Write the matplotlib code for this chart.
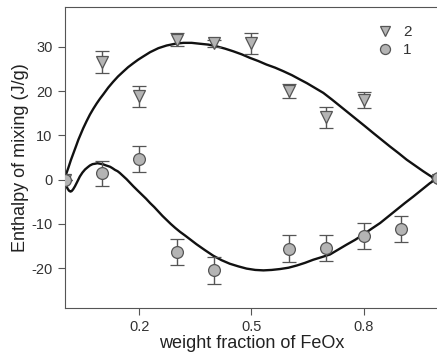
import matplotlib.pyplot as plt
import numpy as np

plt.rcParams['font.family'] = ['Liberation Sans', 'DejaVu Sans']
plt.rcParams['axes.unicode_minus'] = False

# series 2 (triangles)
x2 = [0.0, 0.1, 0.2, 0.3, 0.4, 0.5, 0.6, 0.7, 0.8, 1.0]
y2 = [0.0, 26.5, 18.8, 31.6, 30.8, 30.8, 20.0, 14.1, 18.0, 0.0]
e2 = [0.0, 2.5, 2.4, 1.5, 0.8, 2.4, 1.5, 2.4, 1.8, 0.0]

# series 1 (circles)
x1 = [0.0, 0.1, 0.2, 0.3, 0.4, 0.6, 0.7, 0.8, 0.9, 1.0]
y1 = [0.0, 1.4, 4.7, -16.3, -20.5, -15.6, -15.5, -12.7, -11.2, 0.3]
e1 = [0.0, 2.8, 3.0, 3.0, 3.0, 3.0, 2.9, 3.0, 3.0, 0.0]

# fitted curves
cx2 = [0.0, 0.005, 0.01, 0.017, 0.024, 0.031, 0.037, 0.044, 0.05, 0.059, 0.068,
       0.077, 0.086, 0.095, 0.104, 0.117, 0.13, 0.143, 0.157, 0.17, 0.184,
       0.197, 0.21, 0.229, 0.251, 0.273, 0.296, 0.318, 0.34, 0.362, 0.385,
       0.407, 0.429, 0.451, 0.474, 0.496, 0.518, 0.54, 0.563, 0.585, 0.608,
       0.63, 0.648, 0.67, 0.692, 0.715, 0.737, 0.759, 0.781, 0.803, 0.826,
       0.848, 0.87, 0.893, 0.915, 0.937, 0.959, 0.977, 1.0]
cy2 = [0.0, 1.4, 2.6, 4.4, 6.0, 7.6, 9.0, 10.4, 11.6, 13.2, 14.7,
       16.0, 17.2, 18.3, 19.3, 20.8, 22.1, 23.3, 24.4, 25.4, 26.3,
       27.1, 27.8, 28.8, 29.7, 30.3, 30.7, 30.9, 30.9, 30.7, 30.5,
       30.1, 29.6, 29.0, 28.3, 27.5, 26.8, 26.0, 25.3, 24.5, 23.6,
       22.6, 21.8, 20.7, 19.6, 18.1, 16.6, 15.1, 13.6, 12.1, 10.5,
       9.0, 7.5, 6.0, 4.5, 3.2, 1.9, 0.9, -0.3]
cx1 = [0.0, 0.004, 0.008, 0.012, 0.016, 0.019, 0.023, 0.028, 0.034, 0.041,
       0.048, 0.055, 0.062, 0.068, 0.075, 0.082, 0.088, 0.095, 0.102, 0.108,
       0.115, 0.122, 0.128, 0.135, 0.142, 0.148, 0.157, 0.166, 0.175, 0.184,
       0.196, 0.207, 0.218, 0.229, 0.24, 0.251, 0.262, 0.273, 0.284, 0.296,
       0.309, 0.322, 0.336, 0.353, 0.375, 0.398, 0.42, 0.442, 0.465, 0.487,
       0.51, 0.532, 0.554, 0.576, 0.599, 0.621, 0.643, 0.665, 0.688, 0.71,
       0.732, 0.754, 0.777, 0.799, 0.821, 0.844, 0.866, 0.888, 0.91, 0.933,
       0.955, 0.977, 1.0]
cy1 = [0.0, -1.2, -2.0, -2.5, -2.7, -2.6, -2.2, -1.5, -0.5, 0.7,
       1.6, 2.3, 2.8, 3.2, 3.5, 3.6, 3.7, 3.6, 3.5, 3.3,
       3.1, 2.9, 2.6, 2.2, 1.9, 1.5, 0.8, 0.1, -0.7, -1.5,
       -2.5, -3.4, -4.3, -5.3, -6.2, -7.2, -8.2, -9.1, -10.0, -10.9,
       -11.8, -12.6, -13.5, -14.6, -15.9, -17.2, -18.2, -19.0, -19.6, -20.1,
       -20.4, -20.5, -20.4, -20.2, -19.9, -19.4, -18.8, -18.1, -17.5, -16.9,
       -15.8, -14.7, -13.6, -12.4, -11.1, -9.8, -8.3, -6.8, -5.3, -3.8,
       -2.3, -0.8, 0.5]

fig = plt.figure(figsize=(4.37, 3.58), dpi=100)
ax = fig.add_axes([64.5 / 437, 50 / 358, 374 / 437, 301 / 358])

ax.plot(cx2, cy2, c='#111111', lw=1.7, zorder=2)
ax.plot(cx1, cy1, c='#111111', lw=1.7, zorder=2)

ax.errorbar(x2, y2, yerr=e2, fmt='v', ms=8, mfc='#b4b4b4', mec='#555555',
            mew=0.9, ecolor='#555555', elinewidth=1, capsize=5, capthick=1,
            label='2', zorder=3)
ax.errorbar(x1, y1, yerr=e1, fmt='o', ms=8.5, mfc='#b4b4b4', mec='#555555',
            mew=0.9, ecolor='#555555', elinewidth=1, capsize=5, capthick=1,
            label='1', zorder=3)

ax.set_xlim(0, 1.0)
ax.set_ylim(-29, 39)
ax.set_xticks([0.2, 0.5, 0.8])
ax.set_xticklabels(['0.2', '0.5', '0.8'])
ax.set_yticks([-20, -10, 0, 10, 20, 30])

ax.set_xlabel('weight fraction of FeOx', fontsize=13, labelpad=1, color='#222222')
ax.set_ylabel('Enthalpy of mixing (J/g)', fontsize=13, labelpad=2, color='#222222')
ax.tick_params(labelsize=10.5, direction='out', length=5, color='#555555',
               labelcolor='#333333')

for s in ['left', 'bottom', 'top']:
    ax.spines[s].set_color('#555555')
ax.spines['right'].set_visible(False)

handles, labels = ax.get_legend_handles_labels()
handles = [h[0] for h in handles]
ax.legend(handles, labels, loc='upper right', bbox_to_anchor=(0.965, 0.985),
          frameon=False, fontsize=11, handletextpad=0.6, labelspacing=0.25,
          handlelength=1.2, markerscale=0.85, labelcolor='#333333')

fig.savefig('out.png', dpi=100)
